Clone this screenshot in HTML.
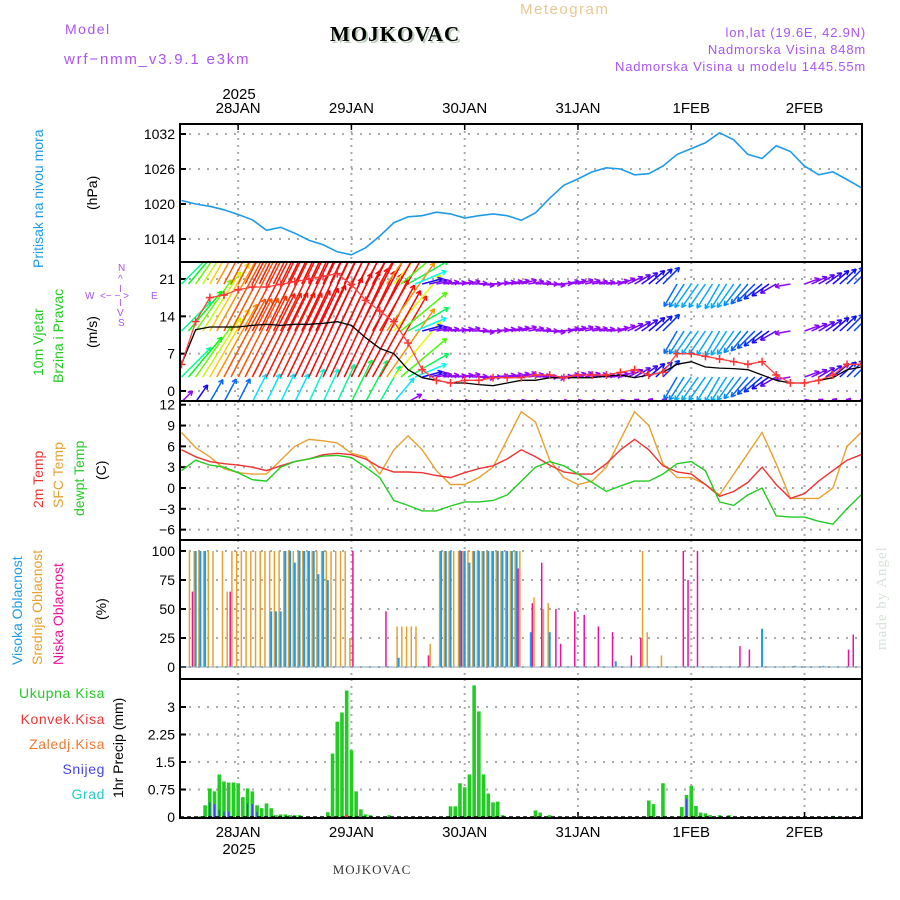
<!DOCTYPE html>
<html><head><meta charset="utf-8"><style>
html,body{margin:0;padding:0;background:#fff;}
svg{display:block;font-family:"Liberation Sans",sans-serif;}
</style></head><body>
<svg id="c" width="900" height="900" viewBox="0 0 900 900" xmlns="http://www.w3.org/2000/svg">
<defs>
<clipPath id="cp1"><rect x="180" y="124" width="682" height="138"/></clipPath>
<clipPath id="cp2"><rect x="180" y="262" width="682" height="139"/></clipPath>
<clipPath id="cp3"><rect x="180" y="401" width="682" height="139"/></clipPath>
<clipPath id="cp4"><rect x="180" y="540" width="682" height="139"/></clipPath>
<clipPath id="cp5"><rect x="180" y="679" width="682" height="139"/></clipPath>
</defs>
<text x="65" y="34" font-size="14" fill="#a855f7" letter-spacing="1.5">Model</text>
<text x="64" y="64" font-size="15" fill="#a855f7" letter-spacing="1.8">wrf−nmm_v3.9.1 e3km</text>
<text x="332" y="43" font-size="21" font-weight="bold" font-family="Liberation Serif,serif" fill="#b8ccb8" letter-spacing="1">MOJKOVAC</text>
<text x="330" y="41" font-size="21" font-weight="bold" font-family="Liberation Serif,serif" fill="#000" letter-spacing="1">MOJKOVAC</text>
<text x="520" y="14" font-size="15" fill="#e8c890" letter-spacing="1.5">Meteogram</text>
<text x="866" y="37" font-size="13" fill="#a855f7" text-anchor="end" letter-spacing="0.8">lon,lat (19.6E, 42.9N)</text>
<text x="866" y="54" font-size="13" fill="#a855f7" text-anchor="end" letter-spacing="0.8">Nadmorska Visina 848m</text>
<text x="866" y="71" font-size="13" fill="#a855f7" text-anchor="end" letter-spacing="0.8">Nadmorska Visina u modelu 1445.55m</text>
<text x="239" y="99" font-size="15" text-anchor="middle">2025</text>
<text x="239" y="836" font-size="15" text-anchor="middle" dy="18">2025</text>
<text x="372" y="874" font-size="13" font-family="Liberation Serif,serif" fill="#333" text-anchor="middle" letter-spacing="1">MOJKOVAC</text>
<text transform="translate(886,650) rotate(-90)" font-size="15" font-family="Liberation Serif,serif" fill="#d8e2d8" letter-spacing="1">made by Angel</text>
<text transform="translate(43,268) rotate(-90)" font-size="14" fill="#1e9be8">Pritisak na nivou mora</text>
<text transform="translate(97,210) rotate(-90)" font-size="14">(hPa)</text>
<text transform="translate(43,376) rotate(-90)" font-size="14" fill="#22cc22">10m Vjetar</text>
<text transform="translate(63,383) rotate(-90)" font-size="14" fill="#22cc22">Brzina i Pravac</text>
<text transform="translate(97,348) rotate(-90)" font-size="14">(m/s)</text>
<g fill="#a855f7" font-size="10">
<text x="118" y="271">N</text><text x="118" y="282">^</text><text x="119" y="292">I</text>
<text x="85" y="299">W</text><text x="100" y="299">&lt;− − &gt;</text><text x="151" y="299">E</text>
<text x="119" y="306">I</text><text x="117" y="316">V</text><text x="118" y="326">S</text>
</g>
<text transform="translate(43,508) rotate(-90)" font-size="14" fill="#ee3333">2m Temp</text>
<text transform="translate(63,508) rotate(-90)" font-size="14" fill="#e8a030">SFC Temp</text>
<text transform="translate(84,516) rotate(-90)" font-size="14" fill="#22cc22">dewpt Temp</text>
<text transform="translate(106,480) rotate(-90)" font-size="14">(C)</text>
<text transform="translate(22,665) rotate(-90)" font-size="14" fill="#1e9be8">Visoka Oblacnost</text>
<text transform="translate(42,665) rotate(-90)" font-size="14" fill="#e8a030">Srednja Oblacnost</text>
<text transform="translate(63,665) rotate(-90)" font-size="14" fill="#ee1199">Niska Oblacnost</text>
<text transform="translate(106,620) rotate(-90)" font-size="14">(%)</text>
<g font-size="14" text-anchor="end" letter-spacing="0.6">
<text x="105" y="698" fill="#22cc22">Ukupna Kisa</text>
<text x="105" y="724" fill="#ee3333">Konvek.Kisa</text>
<text x="105" y="749" fill="#f07830">Zaledj.Kisa</text>
<text x="105" y="774" fill="#4444ee">Snijeg</text>
<text x="105" y="799" fill="#22cccc">Grad</text>
</g>
<text transform="translate(123,798) rotate(-90)" font-size="14">1hr Precip (mm)</text>
<g id="g"></g>
</svg>
<script>
// ---- data (3-hourly, starting 27JAN 12h) ----
const days=["28JAN","29JAN","30JAN","31JAN","1FEB","2FEB"];
const pressure=[1020.6,1020,1019.6,1019,1018.2,1017.3,1015.5,1016,1015,1013.8,1013,1011.8,1011.3,1012.5,1014.5,1016.8,1017.8,1018,1018.6,1018.3,1017.6,1018,1018.3,1018,1017.2,1018.5,1021,1023.2,1024.3,1025.5,1026.2,1026,1025,1025.2,1026.5,1028.5,1029.5,1030.5,1032.2,1031,1028.5,1027.8,1030,1029,1026.5,1025,1025.5,1024.2,1022.8];
const pTicks=[1014,1020,1026,1032];
const windAvg=[5,11.5,12,12,12,12.3,12.5,12.3,12.5,12.5,12.7,13,12.3,10,8,7,4,2.5,2,1.5,1.5,1.2,1,1.5,2,2,2.5,2.5,2.5,2.5,2.8,3,2.5,3,3.5,5,5.5,4.5,4.3,4.2,4,3,2,1.5,1.5,2,2.5,4,4.5];
const windGust=[5,13,17.5,18,19,19.5,19.5,20,20.5,21,21.5,22,20,17,15,13,9,4,2,1.5,2,2,2.5,2.5,2.5,3,3,2.5,3,3,3,3.5,4,3,3.5,7,7,6.5,6,5.5,5,5.5,3,1.5,1.5,2,3,5,5];
const windUpper=[8,12,15,17,17,18,18,18,19,20,22,23,22,20,18,14,9,4,3,3,3,3,3,3,3,3,3,3,3,3,3,3,3.5,4,4.5,5,5.5,5.5,5.5,5.5,5,4.5,3.5,3,3,3.5,4,4.5,5];
const windLow=[3,4,5,5,5,6,6,6,6,7,7,8,9,9,8,6,3,1,1,1,1,1,1,1,1,1,1,1,1,1,1,1,1,1,1,1,1,1,1,1,1,1,1,1,1,1,1,1,1];
const windDir=[45,55,60,62,63,63,64,64,64,65,65,65,64,62,60,50,30,15,10,5,10,-5,5,10,15,5,-5,10,15,10,5,20,30,40,45,-120,-125,-125,-120,-125,-130,-140,-150,190,20,30,40,45,45];
const wTicks=[0,7,14,21];
const t2m=[5.5,4.5,3.8,3.5,3.3,3,2.5,3.2,3.8,4.2,4.8,5,4.8,4.2,3,2.3,2.3,2.2,1.8,1.5,2.2,2.8,3.2,4.2,5.5,4.5,3.3,2.3,2,2,3.5,5.5,7,5.5,3.2,2.3,2,0.5,-1.2,-0.5,0.8,3,0.5,-1.5,-0.8,1,2.5,4,4.8];
const tSfc=[8,5.8,4.5,2.8,2.2,2,2,4,6,7,6.8,6.5,5,4.5,2,5.5,7.5,5.5,2.5,0.5,0.5,1.5,3,7,11,9.5,4,1.5,0.5,1,3,7,11,9,3.5,1.5,1.5,0.5,-1,2,5,8,3.5,-1.5,-1.5,-1.5,0,6,8];
const tDew=[2.5,4,3.3,3,2.2,1.2,1,3,3.8,4.2,4.6,4.7,4.4,3,1.5,-1.8,-2.5,-3.3,-3.3,-2.6,-2,-2,-1.8,-1,1,3,3.8,3.2,2,0.8,-0.5,0.3,1,1,2,3.5,3.8,2.5,-2,-2.5,-1,0,-4,-4.2,-4.2,-4.8,-5.2,-3,-1];
const tTicks=[-6,-3,0,3,6,9,12];
// ---- hourly sparse data: [hourIndex, value] ----
const cloudMid=[[2,100],[3,100],[4,100],[5,100],[6,100],[7,100],[9,100],[10,65],[11,100],[12,100],[13,100],[14,100],[15,100],[16,100],[17,100],[18,100],[19,100],[20,100],[21,100],[22,100],[23,100],[24,100],[25,100],[26,100],[27,100],[28,100],[29,100],[30,100],[31,100],[32,100],[33,100],[34,100],[35,100],[36,25],[46,35],[47,35],[48,35],[49,35],[50,35],[53,20],[55,100],[56,100],[57,100],[58,100],[59,100],[60,100],[61,100],[62,100],[63,100],[64,100],[65,100],[66,100],[67,100],[68,100],[69,100],[70,100],[71,100],[72,100],[75,60],[77,50],[78,55],[98,100],[99,30],[102,10]];
const cloudHigh=[[3,100],[4,100],[5,100],[19,48],[20,48],[21,48],[22,100],[23,100],[24,90],[25,100],[26,100],[27,100],[28,100],[29,80],[30,100],[31,75],[46,8],[55,100],[56,100],[57,100],[59,100],[60,100],[61,90],[62,100],[63,100],[64,100],[65,100],[66,100],[67,100],[68,100],[69,100],[70,100],[71,100],[74,30],[78,30],[92,5],[123,33],[130,1],[136,1]];
const cloudLow=[[2,65],[10,65],[36,100],[43,48],[52,10],[59,100],[71,85],[74,55],[76,90],[79,50],[80,20],[83,48],[85,45],[88,35],[91,30],[95,10],[97,25],[106,100],[107,75],[109,100],[118,18],[120,15],[141,15],[142,28]];
const cTicks=[0,25,50,75,100];
const precipTotal=[[4,0.02],[5,0.32],[6,0.78],[7,0.7],[8,1.16],[9,0.97],[10,0.94],[11,0.94],[12,0.92],[13,0.54],[14,0.78],[15,0.7],[16,0.32],[17,0.24],[18,0.37],[19,0.24],[20,0.05],[21,0.07],[22,0.07],[23,0.05],[24,0.05],[25,0.05],[31,0.13],[32,1.73],[33,2.6],[34,2.85],[35,3.45],[36,1.82],[37,0.7],[38,0.21],[39,0.07],[40,0.05],[44,0.05],[57,0.29],[58,0.29],[59,0.92],[60,0.81],[61,1.16],[62,3.59],[63,2.88],[64,1.16],[65,0.64],[66,0.4],[67,0.42],[68,0.05],[75,0.18],[76,0.12],[78,0.05],[99,0.45],[100,0.35],[102,0.92],[106,0.27],[107,0.6],[108,0.85],[109,0.3],[110,0.12],[111,0.1],[112,0.05],[114,0.05],[116,0.05],[138,0.03]];
const precipSnow=[[6,0.4],[7,0.35],[8,0.2],[9,0.15],[10,0.15],[14,0.37],[15,0.35],[16,0.15],[107,0.5]];
const precipConv=[[35,0.05],[75,0.05],[108,0.04]];
const rTicks=[0,0.75,1.5,2.25,3];
const rTickLabels=["0","0.75","1.5","2.25","3"];

// ---- axes ----
const HX=4.72, X0=181.5;
const xH=i=>X0+HX*i;
const x3=i=>X0+HX*3*i;
const xDay=d=>X0+HX*(12+24*d);
const yP=v=>134+(1032-v)*35/6;
const yW=v=>391-v*112/21;
const yT=v=>488-v*6.94;
const yC=v=>667-v*1.16;
const yR=v=>817-v*36.67;

const NS="http://www.w3.org/2000/svg";
const G=document.getElementById('g');
function mk(tag,attrs,parent){const e=document.createElementNS(NS,tag);for(const k in attrs)e.setAttribute(k,attrs[k]);(parent||G).appendChild(e);return e;}
function txt(x,y,s,attrs){const e=mk('text',Object.assign({x:x,y:y,'font-size':14},attrs||{}));e.textContent=s;return e;}

const panels=[[124,262],[262,401],[401,540],[540,679],[679,818]];
panels.forEach((p,pi)=>{days.forEach((d,di)=>{const l=mk('line',{x1:xDay(di),x2:xDay(di),y1:p[0],y2:p[1],stroke:'#aaa','stroke-width':2,'stroke-dasharray':'2,5'});

});});
function hgrid(y,name){const l=mk('line',{x1:180,x2:862,y1:y,y2:y,stroke:'#aaa','stroke-width':2,'stroke-dasharray':'2,7'});


mk('line',{x1:180,x2:186,y1:y,y2:y,stroke:'#000','stroke-width':2});}
function ylab(y,s,name){const t=txt(175,y+5,s,{'text-anchor':'end'});

}
pTicks.forEach(v=>{hgrid(yP(v),'pressure-grid');ylab(yP(v),String(v),'pressure-tick');});
wTicks.forEach(v=>{hgrid(yW(v),'wind-grid');ylab(yW(v),String(v),'wind-tick');});
tTicks.forEach(v=>{hgrid(yT(v),'temp-grid');ylab(yT(v),v<0?'−'+(-v):String(v),'temp-tick');});
cTicks.forEach(v=>{hgrid(yC(v),'cloud-grid');ylab(yC(v),String(v),'cloud-tick');});
rTicks.forEach((v,i)=>{if(v>0)hgrid(yR(v),'precip-grid');ylab(yR(v),rTickLabels[i],'precip-tick');});
days.forEach((d,di)=>{const a=txt(xDay(di),113,d,{'text-anchor':'middle','font-size':15});


const b=txt(xDay(di),837,d,{'text-anchor':'middle','font-size':15});


mk('line',{x1:xDay(di),x2:xDay(di),y1:124,y2:130,stroke:'#000','stroke-width':1.5});
mk('line',{x1:xDay(di),x2:xDay(di),y1:812,y2:818,stroke:'#000','stroke-width':1.5});});

function line(arr,yf,color,clip,name,w){const pts=arr.map((v,i)=>x3(i).toFixed(1)+','+yf(v).toFixed(1)).join(' ');
const l=mk('polyline',{points:pts,fill:'none',stroke:color,'stroke-width':w||1.5,'clip-path':'url(#'+clip+')'});

return l;}

line(pressure,yP,'#1e9be8','cp1','pressure-line',1.6);

// wind arrows
function hue(s){if(s<=3)return 275;if(s<=6)return 275-(s-3)*30;return Math.max(0,185-(s-6)*15);}
const wg=mk('g',{'clip-path':'url(#cp2)'});


const bases=[284,331,377];
function arrow(x,y,s,dir){const L=s*5.2,a=dir*Math.PI/180;const x2=x+L*Math.cos(a),y2=y-L*Math.sin(a);
const c='hsl('+hue(s)+',95%,50%)';
mk('line',{x1:x,y1:y,x2:x2,y2:y2,stroke:c,'stroke-width':1.5},wg);
const h=5;[0.5,-0.5].forEach(o=>{mk('line',{x1:x2,y1:y2,x2:x2-h*Math.cos(a+o),y2:y2+h*Math.sin(a+o),stroke:c,'stroke-width':1.5},wg);});}
windUpper.forEach((s,i)=>{bases.forEach(b=>{arrow(x3(i),b,s,windDir[i]);});arrow(x3(i),402,windLow[i],windDir[i]);});
windUpper.forEach((s,i)=>{if(i<windUpper.length-1&&Math.abs(windDir[i]-windDir[i+1])<90){bases.forEach(b=>{arrow(x3(i)+7,b,(s+windUpper[i+1])/2,(windDir[i]+windDir[i+1])/2);});}});
line(windAvg,yW,'#000','cp2','wind-speed-line',1.3);
line(windGust,yW,'#ff4444','cp2','wind-gust-line',1.3);
windGust.forEach((v,i)=>{const x=x3(i),y=yW(v);const p=mk('path',{d:`M${x-4} ${y}H${x+4}M${x} ${y-4}V${y+4}`,stroke:'#ff3333','stroke-width':1.5,'clip-path':'url(#cp2)'});

});

line(tSfc,yT,'#e8a030','cp3','sfc-temp-line',1.4);
line(t2m,yT,'#ee3333','cp3','temp-2m-line',1.4);
line(tDew,yT,'#22cc22','cp3','dewpoint-line',1.4);

function cbars(arr,color,off,name){arr.forEach(p=>{const x=xH(p[0])+off;const l=mk('line',{x1:x,x2:x,y1:yC(0),y2:yC(p[1]),stroke:color,'stroke-width':off===0?2:1.5,'clip-path':'url(#cp4)'});

});}
cbars(cloudMid,'#e8a030',-1.5,'mid-cloud-bar');
cbars(cloudHigh,'#1e9be8',0,'high-cloud-bar');
cbars(cloudLow,'#ee1199',1.5,'low-cloud-bar');
mk('line',{x1:180,x2:862,y1:667,y2:667,stroke:'#8ab',"stroke-width":1});

function pbars(arr,color,w,name){arr.forEach(p=>{const x=xH(p[0]);const r=mk('rect',{x:x-w/2,y:yR(p[1]),width:w,height:yR(0)-yR(p[1]),fill:color,'clip-path':'url(#cp5)'});

});}
pbars(precipTotal,'#22cc22',3.6,'precip-total-bar');
pbars(precipSnow,'#4444ee',1.4,'precip-snow-bar');
pbars(precipConv,'#ee3333',1.4,'precip-conv-bar');
mk('line',{x1:180,x2:862,y1:817,y2:817,stroke:'#000','stroke-width':1.5,'stroke-dasharray':'4,3'});

panels.forEach((p,pi)=>{const r=mk('rect',{x:180,y:p[0],width:682,height:p[1]-p[0],fill:'none',stroke:'#000','stroke-width':2});

});
</script>
</body></html>
